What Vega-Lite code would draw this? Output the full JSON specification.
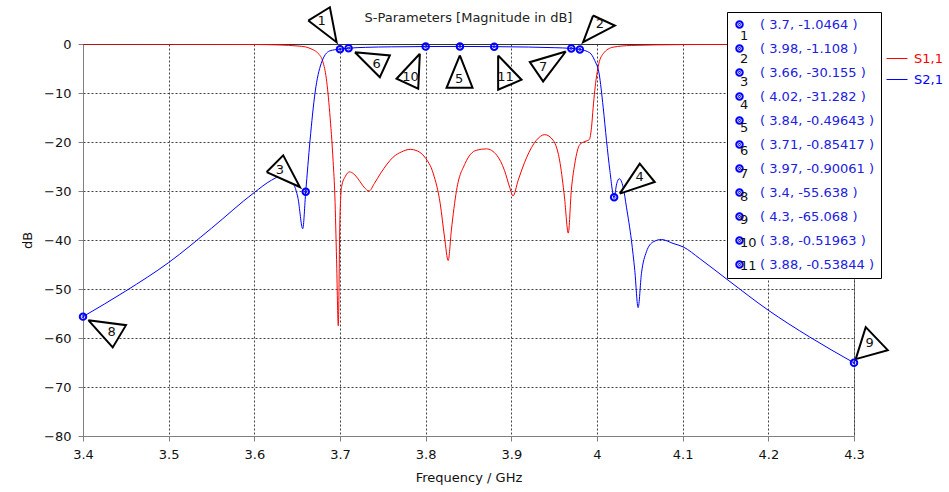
{
  "$schema": "https://vega.github.io/schema/vega-lite/v6.json",
  "autosize": {"type": "none"},
  "padding": {"left": 83, "top": 44, "right": 95, "bottom": 56},
  "width": 771,
  "height": 392,
  "background": "white",
  "title": {"text": "S-Parameters [Magnitude in dB]", "fontSize": 13, "fontWeight": "normal", "color": "#222222", "font": "DejaVu Sans", "offset": -22, "anchor": "middle", "frame": "group"},
  "config": {
    "font": "DejaVu Sans",
    "view": {"stroke": "#808080", "strokeWidth": 1},
    "axis": {"labelFont": "DejaVu Sans", "titleFont": "DejaVu Sans"}
  },
  "datasets": {
    "curves": [
      {"s": "S1,1", "f": 3.4, "db": -0.02}, {"s": "S1,1", "f": 3.5, "db": -0.04}, {"s": "S1,1", "f": 3.55, "db": -0.06},
      {"s": "S1,1", "f": 3.6, "db": -0.1}, {"s": "S1,1", "f": 3.63, "db": -0.2}, {"s": "S1,1", "f": 3.65, "db": -0.4},
      {"s": "S1,1", "f": 3.66, "db": -0.6}, {"s": "S1,1", "f": 3.665, "db": -0.9}, {"s": "S1,1", "f": 3.67, "db": -1.3},
      {"s": "S1,1", "f": 3.675, "db": -2.0}, {"s": "S1,1", "f": 3.68, "db": -3.6}, {"s": "S1,1", "f": 3.684, "db": -7.0},
      {"s": "S1,1", "f": 3.688, "db": -14.0}, {"s": "S1,1", "f": 3.692, "db": -24.0}, {"s": "S1,1", "f": 3.694, "db": -31.0},
      {"s": "S1,1", "f": 3.696, "db": -44.0}, {"s": "S1,1", "f": 3.698, "db": -57.5}, {"s": "S1,1", "f": 3.7, "db": -35.0},
      {"s": "S1,1", "f": 3.702, "db": -29.0}, {"s": "S1,1", "f": 3.706, "db": -27.1}, {"s": "S1,1", "f": 3.711, "db": -26.1},
      {"s": "S1,1", "f": 3.716, "db": -26.5}, {"s": "S1,1", "f": 3.721, "db": -27.5}, {"s": "S1,1", "f": 3.728, "db": -29.2},
      {"s": "S1,1", "f": 3.734, "db": -30.0}, {"s": "S1,1", "f": 3.74, "db": -28.5}, {"s": "S1,1", "f": 3.747, "db": -26.5},
      {"s": "S1,1", "f": 3.755, "db": -24.5}, {"s": "S1,1", "f": 3.762, "db": -23.1}, {"s": "S1,1", "f": 3.772, "db": -22.0},
      {"s": "S1,1", "f": 3.782, "db": -21.5}, {"s": "S1,1", "f": 3.79, "db": -21.8}, {"s": "S1,1", "f": 3.799, "db": -23.1},
      {"s": "S1,1", "f": 3.809, "db": -26.5}, {"s": "S1,1", "f": 3.817, "db": -32.6}, {"s": "S1,1", "f": 3.822, "db": -39.4},
      {"s": "S1,1", "f": 3.8263, "db": -44.2}, {"s": "S1,1", "f": 3.83, "db": -38.0}, {"s": "S1,1", "f": 3.836, "db": -29.9},
      {"s": "S1,1", "f": 3.846, "db": -24.4}, {"s": "S1,1", "f": 3.859, "db": -21.7}, {"s": "S1,1", "f": 3.871, "db": -21.4},
      {"s": "S1,1", "f": 3.883, "db": -22.7}, {"s": "S1,1", "f": 3.892, "db": -25.8}, {"s": "S1,1", "f": 3.898, "db": -29.2},
      {"s": "S1,1", "f": 3.902, "db": -31.0}, {"s": "S1,1", "f": 3.908, "db": -27.8}, {"s": "S1,1", "f": 3.918, "db": -23.1},
      {"s": "S1,1", "f": 3.929, "db": -19.7}, {"s": "S1,1", "f": 3.939, "db": -18.5}, {"s": "S1,1", "f": 3.949, "db": -19.7},
      {"s": "S1,1", "f": 3.957, "db": -24.4}, {"s": "S1,1", "f": 3.962, "db": -31.2}, {"s": "S1,1", "f": 3.9665, "db": -38.6},
      {"s": "S1,1", "f": 3.97, "db": -29.9}, {"s": "S1,1", "f": 3.974, "db": -24.5}, {"s": "S1,1", "f": 3.98, "db": -20.5},
      {"s": "S1,1", "f": 3.986, "db": -19.9}, {"s": "S1,1", "f": 3.991, "db": -19.5}, {"s": "S1,1", "f": 3.9936, "db": -17.0},
      {"s": "S1,1", "f": 3.9955, "db": -13.0}, {"s": "S1,1", "f": 3.9974, "db": -9.5}, {"s": "S1,1", "f": 4.0013, "db": -4.7},
      {"s": "S1,1", "f": 4.0071, "db": -2.0}, {"s": "S1,1", "f": 4.0188, "db": -0.65}, {"s": "S1,1", "f": 4.04, "db": -0.3},
      {"s": "S1,1", "f": 4.1, "db": -0.12}, {"s": "S1,1", "f": 4.2, "db": -0.05}, {"s": "S1,1", "f": 4.3, "db": -0.02},
      {"s": "S2,1", "f": 3.4, "db": -55.638}, {"s": "S2,1", "f": 3.45, "db": -50.4}, {"s": "S2,1", "f": 3.5, "db": -44.6},
      {"s": "S2,1", "f": 3.55, "db": -37.6}, {"s": "S2,1", "f": 3.6, "db": -30.3}, {"s": "S2,1", "f": 3.62, "db": -27.8},
      {"s": "S2,1", "f": 3.632, "db": -26.9}, {"s": "S2,1", "f": 3.64, "db": -27.3}, {"s": "S2,1", "f": 3.646, "db": -28.6},
      {"s": "S2,1", "f": 3.651, "db": -31.5}, {"s": "S2,1", "f": 3.6565, "db": -37.7}, {"s": "S2,1", "f": 3.66, "db": -30.155},
      {"s": "S2,1", "f": 3.665, "db": -19.7}, {"s": "S2,1", "f": 3.671, "db": -9.8}, {"s": "S2,1", "f": 3.678, "db": -4.0},
      {"s": "S2,1", "f": 3.688, "db": -1.4}, {"s": "S2,1", "f": 3.7, "db": -1.0464}, {"s": "S2,1", "f": 3.71, "db": -0.85417},
      {"s": "S2,1", "f": 3.73, "db": -0.68}, {"s": "S2,1", "f": 3.76, "db": -0.58}, {"s": "S2,1", "f": 3.8, "db": -0.51963},
      {"s": "S2,1", "f": 3.84, "db": -0.49643}, {"s": "S2,1", "f": 3.88, "db": -0.53844}, {"s": "S2,1", "f": 3.92, "db": -0.62},
      {"s": "S2,1", "f": 3.95, "db": -0.75}, {"s": "S2,1", "f": 3.97, "db": -0.90061}, {"s": "S2,1", "f": 3.98, "db": -1.108},
      {"s": "S2,1", "f": 3.9916, "db": -1.8}, {"s": "S2,1", "f": 3.9974, "db": -3.4}, {"s": "S2,1", "f": 4.0025, "db": -6.1},
      {"s": "S2,1", "f": 4.0072, "db": -12.9}, {"s": "S2,1", "f": 4.0111, "db": -19.7}, {"s": "S2,1", "f": 4.015, "db": -25.8},
      {"s": "S2,1", "f": 4.02, "db": -31.282}, {"s": "S2,1", "f": 4.023, "db": -28.5}, {"s": "S2,1", "f": 4.026, "db": -27.5},
      {"s": "S2,1", "f": 4.0305, "db": -29.2}, {"s": "S2,1", "f": 4.0344, "db": -33.3}, {"s": "S2,1", "f": 4.0402, "db": -40.1},
      {"s": "S2,1", "f": 4.0441, "db": -46.2}, {"s": "S2,1", "f": 4.048, "db": -53.8}, {"s": "S2,1", "f": 4.0519, "db": -46.8},
      {"s": "S2,1", "f": 4.0577, "db": -42.4}, {"s": "S2,1", "f": 4.0655, "db": -40.4}, {"s": "S2,1", "f": 4.0752, "db": -39.9},
      {"s": "S2,1", "f": 4.0888, "db": -40.7}, {"s": "S2,1", "f": 4.1005, "db": -41.4}, {"s": "S2,1", "f": 4.12, "db": -43.8},
      {"s": "S2,1", "f": 4.153, "db": -48.2}, {"s": "S2,1", "f": 4.1997, "db": -54.3}, {"s": "S2,1", "f": 4.2483, "db": -59.8},
      {"s": "S2,1", "f": 4.3, "db": -65.068}
    ],
    "markers": [
      {"n": "1", "f": 3.7, "db": -1.0464, "entry": "( 3.7, -1.0464 )", "lf": 3.6785, "ldb": 4.65},
      {"n": "2", "f": 3.98, "db": -1.108, "entry": "( 3.98, -1.108 )", "lf": 4.0033, "ldb": 4.12},
      {"n": "3", "f": 3.66, "db": -30.155, "entry": "( 3.66, -30.155 )", "lf": 3.6299, "ldb": -25.78},
      {"n": "4", "f": 4.02, "db": -31.282, "entry": "( 4.02, -31.282 )", "lf": 4.0499, "ldb": -27.15},
      {"n": "5", "f": 3.84, "db": -0.49643, "entry": "( 3.84, -0.49643 )", "lf": 3.8391, "ldb": -7.09},
      {"n": "6", "f": 3.71, "db": -0.85417, "entry": "( 3.71, -0.85417 )", "lf": 3.7427, "ldb": -4.04},
      {"n": "7", "f": 3.97, "db": -0.90061, "entry": "( 3.97, -0.90061 )", "lf": 3.9371, "ldb": -4.73},
      {"n": "8", "f": 3.4, "db": -55.638, "entry": "( 3.4, -55.638 )", "lf": 3.4335, "ldb": -58.74},
      {"n": "9", "f": 4.3, "db": -65.068, "entry": "( 4.3, -65.068 )", "lf": 4.3183, "ldb": -61.05},
      {"n": "10", "f": 3.8, "db": -0.51963, "entry": "( 3.8, -0.51963 )", "lf": 3.7822, "ldb": -6.73},
      {"n": "11", "f": 3.88, "db": -0.53844, "entry": "( 3.88, -0.53844 )", "lf": 3.8932, "ldb": -6.77}
    ],
    "tri": [
      {"n": "1", "k": 0, "f": 3.6629, "db": 4.79}, {"n": "1", "k": 1, "f": 3.6882, "db": 7.5}, {"n": "1", "k": 2, "f": 3.696, "db": 0.37}, {"n": "1", "k": 3, "f": 3.6629, "db": 4.79},
      {"n": "2", "k": 0, "f": 3.9954, "db": 5.81}, {"n": "2", "k": 1, "f": 4.0208, "db": 3.77}, {"n": "2", "k": 2, "f": 3.9838, "db": 0.37}, {"n": "2", "k": 3, "f": 3.9954, "db": 5.81},
      {"n": "3", "k": 0, "f": 3.6144, "db": -26.13}, {"n": "3", "k": 1, "f": 3.6337, "db": -22.73}, {"n": "3", "k": 2, "f": 3.6532, "db": -29.19}, {"n": "3", "k": 3, "f": 3.6144, "db": -26.13},
      {"n": "4", "k": 0, "f": 4.0266, "db": -30.53}, {"n": "4", "k": 1, "f": 4.0499, "db": -24.42}, {"n": "4", "k": 2, "f": 4.0674, "db": -28.17}, {"n": "4", "k": 3, "f": 4.0266, "db": -30.53},
      {"n": "5", "k": 0, "f": 3.8399, "db": -2.34}, {"n": "5", "k": 1, "f": 3.8244, "db": -8.93}, {"n": "5", "k": 2, "f": 3.8547, "db": -8.93}, {"n": "5", "k": 3, "f": 3.8399, "db": -2.34},
      {"n": "6", "k": 0, "f": 3.7174, "db": -1.67}, {"n": "6", "k": 1, "f": 3.7582, "db": -2.34}, {"n": "6", "k": 2, "f": 3.7465, "db": -6.77}, {"n": "6", "k": 3, "f": 3.7174, "db": -1.67},
      {"n": "7", "k": 0, "f": 3.9636, "db": -1.53}, {"n": "7", "k": 1, "f": 3.9216, "db": -3.71}, {"n": "7", "k": 2, "f": 3.9371, "db": -7.64}, {"n": "7", "k": 3, "f": 3.9636, "db": -1.53},
      {"n": "8", "k": 0, "f": 3.4062, "db": -56.36}, {"n": "8", "k": 1, "f": 3.4502, "db": -57.38}, {"n": "8", "k": 2, "f": 3.4347, "db": -61.92}, {"n": "8", "k": 3, "f": 3.4062, "db": -56.36},
      {"n": "9", "k": 0, "f": 4.302, "db": -64.31}, {"n": "9", "k": 1, "f": 4.3137, "db": -57.79}, {"n": "9", "k": 2, "f": 4.3394, "db": -62.48}, {"n": "9", "k": 3, "f": 4.302, "db": -64.31},
      {"n": "10", "k": 0, "f": 3.7932, "db": -2.0}, {"n": "10", "k": 1, "f": 3.766, "db": -7.09}, {"n": "10", "k": 2, "f": 3.7913, "db": -9.13}, {"n": "10", "k": 3, "f": 3.7932, "db": -2.0},
      {"n": "11", "k": 0, "f": 3.8846, "db": -2.34}, {"n": "11", "k": 1, "f": 3.9119, "db": -7.3}, {"n": "11", "k": 2, "f": 3.8846, "db": -9.34}, {"n": "11", "k": 3, "f": 3.8846, "db": -2.34}
    ]
  },
  "layer": [
    {
      "data": {"name": "curves"},
      "mark": {"type": "line", "strokeWidth": 1, "clip": true, "interpolate": "monotone"},
      "encoding": {
        "x": {"field": "f", "type": "quantitative", "title": "Frequency / GHz",
          "scale": {"domain": [3.4, 4.3], "nice": false, "zero": false},
          "axis": {"orient": "bottom", "values": [3.4, 3.5, 3.6, 3.7, 3.8, 3.9, 4.0, 4.1, 4.2, 4.3], "format": "~g",
            "grid": true, "gridColor": "#404040", "gridDash": [2, 2], "gridWidth": 1,
            "domainColor": "#808080", "tickColor": "#808080", "tickSize": 5, "labelFontSize": 13, "labelColor": "#111111",
            "labelPadding": 7, "labelFlush": false, "titleFontSize": 13, "titleFontWeight": "normal",
            "titleColor": "#111111", "titlePadding": 10}},
        "y": {"field": "db", "type": "quantitative", "title": "dB",
          "scale": {"domain": [-80, 0], "nice": false, "zero": false},
          "axis": {"orient": "left", "values": [-80, -70, -60, -50, -40, -30, -20, -10, 0], "grid": true, "gridColor": "#404040", "gridDash": [2, 2], "gridWidth": 1,
            "domainColor": "#808080", "tickColor": "#808080", "tickSize": 5, "labelFontSize": 13, "labelColor": "#111111",
            "labelPadding": 7, "labelFlush": false, "titleFontSize": 13, "titleFontWeight": "normal",
            "titleColor": "#111111", "titlePadding": 9}},
        "color": {"field": "s", "type": "nominal",
          "scale": {"domain": ["S1,1", "S2,1"], "range": ["#ff0000", "#0000ff"]},
          "legend": {"orient": "none", "legendX": 803, "legendY": 3.5, "title": null, "padding": 0,
            "symbolType": "stroke", "symbolSize": 441, "symbolStrokeWidth": 1, "labelOffset": 6,
            "labelFont": "DejaVu Sans", "labelFontSize": 13, "rowPadding": 3,
            "encode": {"labels": {"update": {"fill": {"signal": "datum.value == 'S1,1' ? '#ff0000' : '#0000ff'"}}}}}},
        "detail": {"field": "s"}
      }
    },
    {
      "data": {"name": "tri"},
      "mark": {"type": "line", "stroke": "black", "fill": "white", "strokeWidth": 2, "strokeJoin": "miter", "clip": false},
      "encoding": {
        "x": {"field": "f", "type": "quantitative", "axis": {"orient": "top", "labels": false, "ticks": false, "grid": false, "title": null, "domainColor": "#303030"}},
        "y": {"field": "db", "type": "quantitative", "title": "dB"},
        "detail": {"field": "n"},
        "order": {"field": "k", "type": "quantitative"}
      }
    },
    {
      "data": {"name": "markers"},
      "mark": {"type": "point", "filled": false, "fill": "transparent", "stroke": "#0000ff", "strokeWidth": 2, "size": 42, "opacity": 1, "clip": false},
      "encoding": {
        "x": {"field": "f", "type": "quantitative", "axis": null},
        "y": {"field": "db", "type": "quantitative", "title": "dB"},
        "shape": {"field": "entry", "type": "nominal",
          "scale": {"domain": ["( 3.7, -1.0464 )", "( 3.98, -1.108 )", "( 3.66, -30.155 )", "( 4.02, -31.282 )", "( 3.84, -0.49643 )", "( 3.71, -0.85417 )", "( 3.97, -0.90061 )", "( 3.4, -55.638 )", "( 4.3, -65.068 )", "( 3.8, -0.51963 )", "( 3.88, -0.53844 )"],
            "range": ["M-1,0A1,1 0 1,0 1,0A1,1 0 1,0 -1,0ZM-0.12,0A0.12,0.12 0 1,0 0.12,0A0.12,0.12 0 1,0 -0.12,0Z"]},
          "legend": {"orient": "none", "legendX": 644, "legendY": -32, "title": null, "padding": 6,
            "strokeColor": "black", "fillColor": "white",
            "symbolStrokeColor": "#0000ff", "symbolFillColor": "transparent", "symbolStrokeWidth": 2, "symbolSize": 42,
            "labelFont": "DejaVu Sans", "labelFontSize": 13, "labelColor": "#2020e0", "labelOffset": 14, "labelLimit": 300,
            "rowPadding": 9,
            "encode": {"legend": {"update": {"strokeWidth": {"value": 2}}}, "symbols": {"update": {"fill": {"value": "transparent"}}}}}}
      }
    },
    {
      "data": {"name": "markers"},
      "mark": {"type": "text", "fontSize": 13, "font": "DejaVu Sans", "color": "#111111", "align": "center", "baseline": "middle", "clip": false},
      "encoding": {
        "x": {"field": "lf", "type": "quantitative", "axis": null},
        "y": {"field": "ldb", "type": "quantitative", "title": "dB"},
        "text": {"field": "n"},
        "opacity": {"field": "n", "type": "ordinal",
          "scale": {"domain": ["1", "2", "3", "4", "5", "6", "7", "8", "9", "10", "11"], "range": [1, 1]},
          "legend": {"orient": "none", "legendX": 643, "legendY": -15, "title": null, "padding": 0,
            "symbolSize": 0, "symbolStrokeWidth": 0, "symbolStrokeColor": "transparent", "symbolFillColor": "transparent", "labelOffset": 1,
            "labelFont": "DejaVu Sans", "labelFontSize": 13, "labelColor": "#111111", "rowPadding": 9,
            "encode": {"symbols": {"update": {"opacity": {"value": 0}}}}}}
      }
    }
  ]
}
